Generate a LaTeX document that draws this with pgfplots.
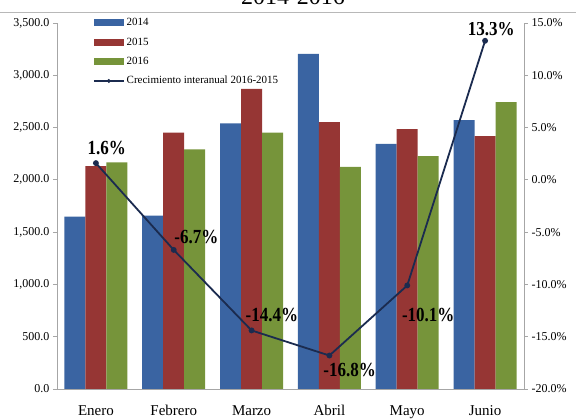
\documentclass[border=0pt]{standalone}
\usepackage{fontspec}
\setmainfont{Liberation Serif}
\usepackage{pgfplots}
\pgfplotsset{compat=1.18}
\definecolor{cblue}{HTML}{3A64A2}
\definecolor{cred}{HTML}{963634}
\definecolor{cgreen}{HTML}{76943A}
\definecolor{cnavy}{HTML}{1B2B4F}
\definecolor{caxis}{HTML}{A6A6A6}
\newcommand{\lab}[1]{\scalebox{0.85}[1]{#1}}
\begin{document}
\begin{tikzpicture}
\begin{axis}[
  at={(0,0)}, anchor=south west,
  scale only axis, width=467pt, height=366pt,
  xmin=-0.5, xmax=5.5, ymin=0, ymax=3500,
  ybar=0pt, bar width=21pt,
  axis x line*=bottom, axis y line*=left,
  axis line style={caxis, line width=0.8pt},
  tick align=outside,
  xtick={0,...,5},
  xticklabels={Enero,Febrero,Marzo,Abril,Mayo,Junio},
  xtick style={draw=none},
  minor xtick={-0.5,0.5,1.5,2.5,3.5,4.5,5.5},
  minor tick length=5pt,
  minor tick style={caxis, line width=0.8pt},
  xticklabel style={font=\fontsize{15}{15}\selectfont, yshift=-9pt},
  ytick={0,500,...,3500},
  major tick length=4pt,
  ytick style={caxis, line width=0.8pt},
  scaled y ticks=false,
  yticklabel style={font=\fontsize{12}{12}\selectfont,
    /pgf/number format/.cd, fixed, fixed zerofill, precision=1, 1000 sep={,}, assume math mode=true},
  legend style={at={(0.07,1.024)}, anchor=north west, draw=none, fill=none,
    font=\fontsize{11}{13}\selectfont, row sep=6.5pt},
  legend cell align=left,
]
\addplot[fill=cblue, draw=none, legend image code/.code={\fill[cblue] (0pt,-3.5pt) rectangle (30pt,3.5pt);}]
  coordinates {(0,1648) (1,1657) (2,2541) (3,3204) (4,2343) (5,2572)};
\addlegendentry{2014}
\addplot[fill=cred, draw=none, legend image code/.code={\fill[cred] (0pt,-3.5pt) rectangle (30pt,3.5pt);}]
  coordinates {(0,2132) (1,2451) (2,2869) (3,2553) (4,2486) (5,2419)};
\addlegendentry{2015}
\addplot[fill=cgreen, draw=none, legend image code/.code={\fill[cgreen] (0pt,-3.5pt) rectangle (30pt,3.5pt);}]
  coordinates {(0,2168) (1,2292) (2,2451) (3,2123) (4,2228) (5,2744)};
\addlegendentry{2016}
\addlegendimage{legend image code/.code={\draw[cnavy, line width=1.8pt] (0pt,0pt) -- (30pt,0pt); \fill[cnavy] (15pt,0pt) circle (1.8pt);}}
\addlegendentry{Crecimiento interanual 2016-2015}
\end{axis}
\begin{axis}[
  at={(0,0)}, anchor=south west,
  scale only axis, width=467pt, height=366pt,
  xmin=-0.5, xmax=5.5, ymin=-20, ymax=15,
  axis x line=none, axis y line*=right,
  axis line style={caxis, line width=0.8pt},
  tick align=outside,
  ytick={-20,-15,...,15},
  major tick length=4pt,
  ytick style={caxis, line width=0.8pt},
  yticklabel={\pgfmathprintnumber[fixed,fixed zerofill,precision=1,assume math mode=true]{\tick}\%},
  yticklabel style={font=\fontsize{12}{12}\selectfont},
]
\addplot[cnavy, line width=1.8pt, mark=*, mark size=2pt]
  coordinates {(0,1.6) (1,-6.7) (2,-14.4) (3,-16.8) (4,-10.1) (5,13.3)};
\begin{scope}[every node/.style={font=\bfseries\fontsize{20}{20}\selectfont}]
\node at (axis cs:0.14,3.0) {\lab{1.6\%}};
\node at (axis cs:1.29,-5.5) {\lab{-6.7\%}};
\node at (axis cs:2.26,-12.9) {\lab{-14.4\%}};
\node at (axis cs:3.26,-18.2) {\lab{-16.8\%}};
\node at (axis cs:4.27,-12.9) {\lab{-10.1\%}};
\node at (axis cs:5.08,14.4) {\lab{13.3\%}};
\end{scope}
\end{axis}
\draw[caxis!80, line width=0.8pt] (-57pt,377pt) -- (519pt,377pt);
\node[anchor=base, font=\fontsize{24}{24}\selectfont] at (236pt,384pt) {2014-2016};
\pgfresetboundingbox
\path[use as bounding box] (-57pt,-31pt) rectangle (519pt,389pt);
\end{tikzpicture}
\end{document}
